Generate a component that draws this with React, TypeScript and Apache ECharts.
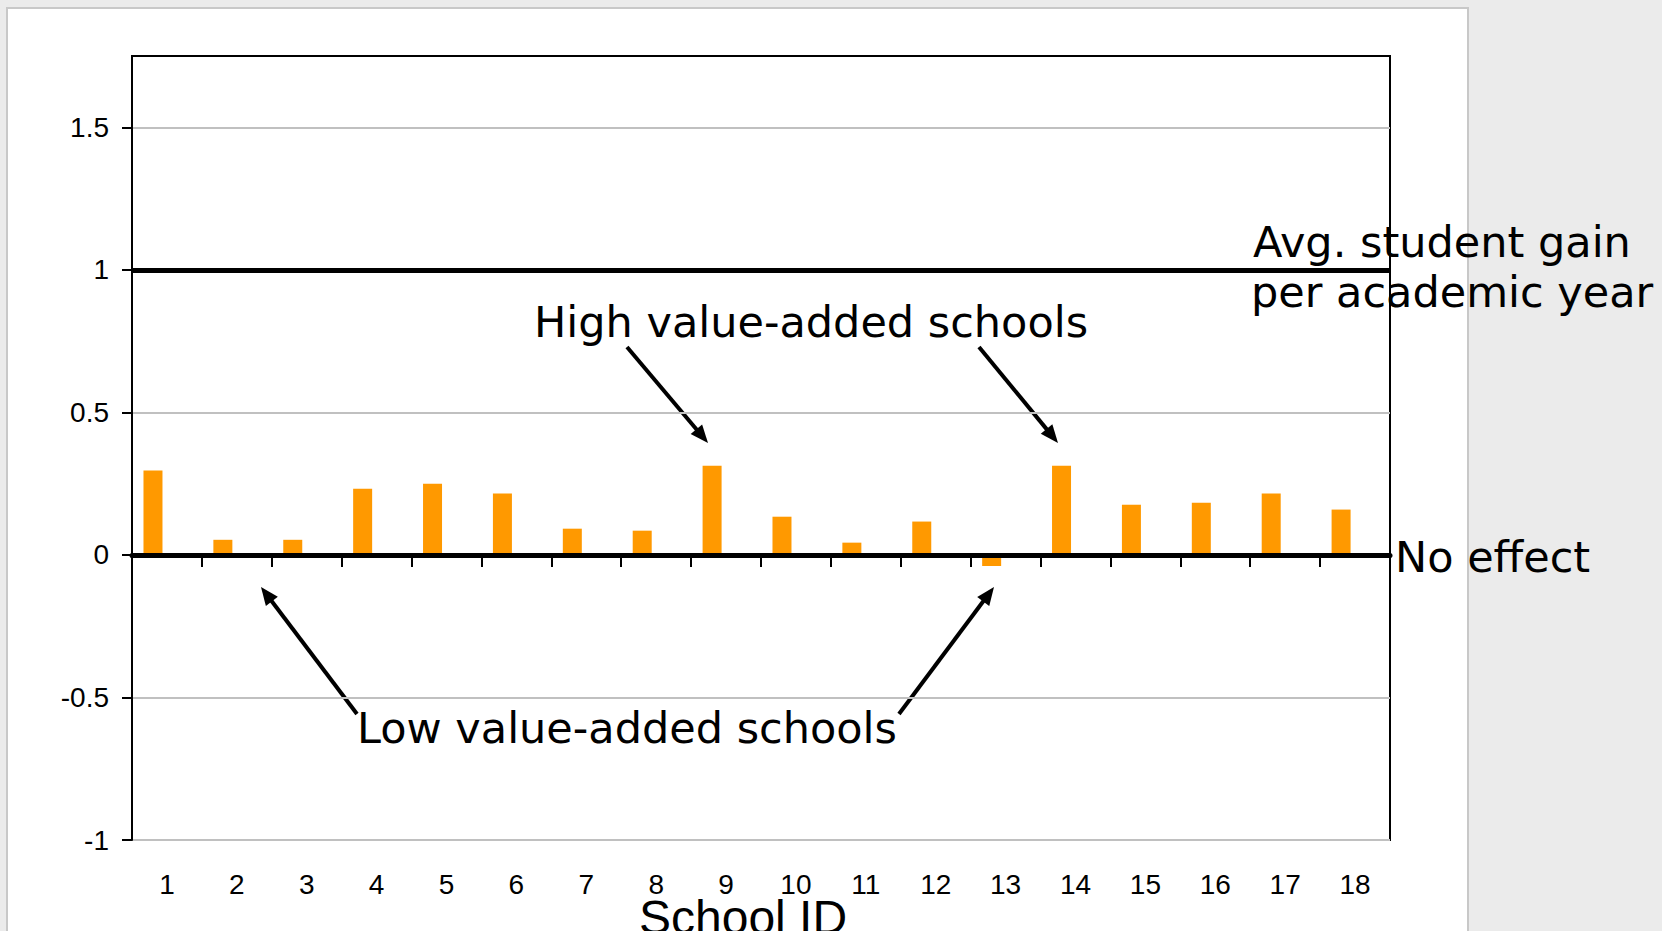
import React, { useEffect, useRef } from "react";
import * as echarts from "echarts";

// ---- data ----
const schoolIds = ["1", "2", "3", "4", "5", "6", "7", "8", "9", "10", "11", "12", "13", "14", "15", "16", "17", "18"];
const valueAdded = [0.296, 0.053, 0.053, 0.232, 0.25, 0.215, 0.092, 0.085, 0.313, 0.134, 0.043, 0.117, -0.039, 0.313, 0.176, 0.183, 0.215, 0.159];
const emptySeries = [null, null, null, null, null, null, null, null, null, null, null, null, null, null, null, null, null, null];
const yTickValues = [-1, -0.5, 0, 0.5, 1, 1.5];
const avgGain = 1;

const annoFont = "'DejaVu Sans', Verdana, sans-serif";
const axisFont = "'Liberation Sans', Arial, sans-serif";

function arrow(x1: number, y1: number, x2: number, y2: number) {
  const dx = x2 - x1;
  const dy = y2 - y1;
  const len = Math.sqrt(dx * dx + dy * dy);
  const ux = dx / len;
  const uy = dy / len;
  const headLen = 18;
  const headHalf = 7.5;
  const bx = x2 - ux * headLen;
  const by = y2 - uy * headLen;
  const nx = -uy;
  const ny = ux;
  return [
    {
      type: "line",
      shape: { x1, y1, x2: bx + ux * 2, y2: by + uy * 2 },
      style: { stroke: "#000", lineWidth: 4 },
      silent: true,
    },
    {
      type: "polygon",
      shape: {
        points: [
          [x2, y2],
          [bx + nx * headHalf, by + ny * headHalf],
          [bx - nx * headHalf, by - ny * headHalf],
        ],
      },
      style: { fill: "#000" },
      silent: true,
    },
  ];
}

function label(text: string, x: number, y: number, size: number, family: string, lineHeight?: number) {
  const style: any = {
    text,
    fill: "#000",
    fontSize: size,
    fontFamily: family,
    align: "left",
    verticalAlign: "middle",
  };
  if (lineHeight) style.lineHeight = lineHeight;
  return { type: "text", x, y, silent: true, style };
}

export default function App() {
  const ref = useRef<HTMLDivElement>(null);

  useEffect(() => {
    if (!ref.current) return;
    const chart = echarts.init(ref.current, undefined, { renderer: "svg" });
    const option: any = {
      animation: false,
      textStyle: { fontFamily: axisFont },
      grid: {
        left: 132,
        top: 56,
        width: 1258,
        height: 784,
        show: true,
        borderColor: "#000",
        borderWidth: 2,
        backgroundColor: "transparent",
        containLabel: false,
        outerBoundsMode: "none",
      },
      xAxis: [
        {
          type: "category",
          data: schoolIds,
          position: "bottom",
          z: 5,
          axisLine: { show: true, onZero: true, lineStyle: { color: "#000", width: 5 } },
          axisTick: { show: true, length: 12, interval: 0, lineStyle: { color: "#000", width: 2 } },
          axisLabel: { show: false },
          splitLine: { show: false },
        },
        {
          type: "category",
          data: schoolIds,
          position: "bottom",
          axisLine: { show: false, onZero: false },
          axisTick: { show: false },
          splitLine: { show: false },
          axisLabel: {
            show: true,
            interval: 0,
            margin: 32,
            fontSize: 28,
            lineHeight: 24,
            color: "#000",
            fontFamily: axisFont,
          },
        },
      ],
      yAxis: {
        type: "value",
        min: -1,
        max: 1.75,
        interval: 0.5,
        axisLine: { show: true, lineStyle: { color: "#000", width: 2 } },
        axisTick: {
          show: true,
          length: 10,
          customValues: yTickValues,
          lineStyle: { color: "#000", width: 2 },
        },
        axisLabel: {
          customValues: yTickValues,
          margin: 23,
          fontSize: 28,
          color: "#000",
          fontFamily: axisFont,
        },
        splitLine: { show: true, lineStyle: { color: "#c0c0c0", width: 2 } },
      },
      series: [
        {
          type: "bar",
          name: "Value added",
          xAxisIndex: 0,
          data: valueAdded,
          barWidth: 19,
          barGap: "47%",
          itemStyle: { color: "#FF9900" },
          markLine: {
            silent: true,
            symbol: ["none", "none"],
            label: { show: false },
            lineStyle: { color: "#000", width: 5, type: "solid" },
            data: [{ yAxis: avgGain }],
          },
        },
        {
          type: "bar",
          name: "Series 2",
          xAxisIndex: 0,
          data: emptySeries,
          barWidth: 19,
          itemStyle: { color: "#9999FF" },
        },
      ],
      graphic: [
        label("High value-added schools", 534, 322, 43, annoFont),
        label("Low value-added schools", 357, 728, 43, annoFont),
        label("Avg. student gain", 1253, 242, 43, annoFont),
        label("per academic year", 1251, 292, 43, annoFont),
        label("No effect", 1395, 557, 43, annoFont),
        label("School ID", 639, 917, 48, axisFont, 34),
        ...arrow(627, 347, 708, 443),
        ...arrow(979, 347, 1058, 443),
        ...arrow(357, 714, 261, 587),
        ...arrow(899, 714, 994, 587),
      ],
    };
    chart.setOption(option);
    return () => chart.dispose();
  }, []);

  return (
    <div
      style={{
        position: "fixed",
        left: 0,
        top: 0,
        width: 1662,
        height: 931,
        background: "#ebebeb",
        overflow: "hidden",
      }}
    >
      <div
        style={{
          position: "absolute",
          left: 6,
          top: 7,
          width: 1463,
          height: 960,
          background: "#fff",
          border: "2px solid #c8c8c8",
          boxSizing: "border-box",
        }}
      />
      <div ref={ref} style={{ position: "absolute", left: 0, top: 0, width: 1662, height: 931 }} />
    </div>
  );
}
